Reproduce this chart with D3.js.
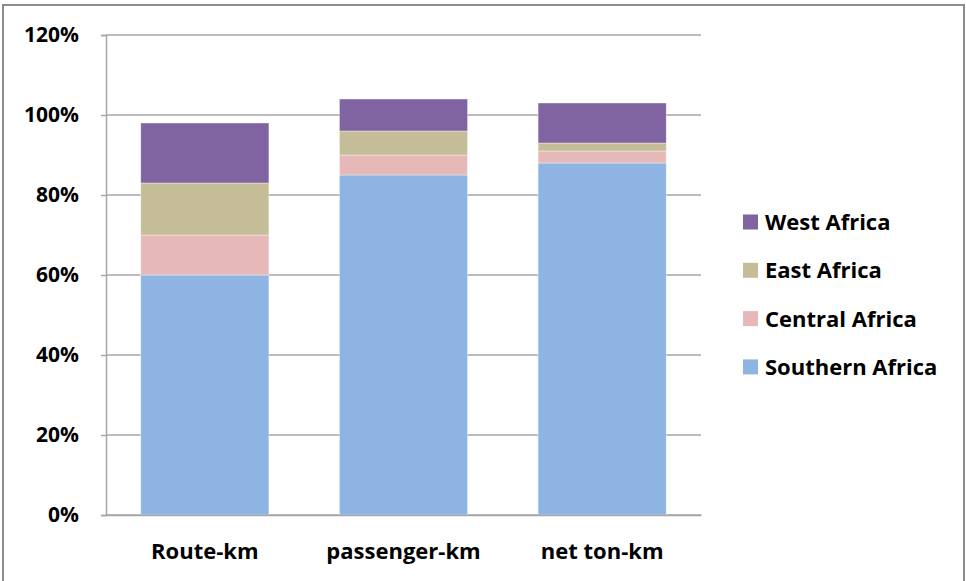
<!DOCTYPE html>
<html>
<head>
<meta charset="utf-8">
<script src="https://cdn.jsdelivr.net/npm/d3@7"></script>
<style>
  html, body { margin: 0; padding: 0; background: #fff; }
  svg { display: block; font-family: "Open Sans", Lato, sans-serif; }
</style>
</head>
<body>
<svg id="chart" width="966" height="581"></svg>
<script>
// Share of African rail network by region (stacked, percent)
const categories = ["Route-km", "passenger-km", "net ton-km"];
const regions = ["Southern Africa", "Central Africa", "East Africa", "West Africa"];
const southernAfrica = [60, 85, 88];
const centralAfrica  = [10, 5, 3];
const eastAfrica     = [13, 6, 2];
const westAfrica     = [15, 8, 10];
const yTicks = [0, 20, 40, 60, 80, 100, 120];
const colors = ["#8EB4E3", "#E6B9B8", "#C4BD97", "#8064A2"];

const seriesValues = [southernAfrica, centralAfrica, eastAfrica, westAfrica];
const rows = categories.map((c, i) => {
  const r = { category: c };
  regions.forEach((name, k) => { r[name] = seriesValues[k][i]; });
  return r;
});
const stacked = d3.stack().keys(regions)(rows);

const svg = d3.select("#chart");
const FONT = "'Open Sans', Lato, sans-serif";

// outer frame
svg.append("rect")
  .attr("x", 3).attr("y", 5).attr("width", 961).attr("height", 590)
  .attr("fill", "#fff").attr("stroke", "#8c8c8c").attr("stroke-width", 2);

const plot = { left: 106, right: 701, top: 35, bottom: 515 };

const x = d3.scaleBand().domain(categories)
  .range([plot.left, plot.right]).paddingInner(0.355).paddingOuter(0.175);
const y = d3.scaleLinear().domain([0, 120]).range([plot.bottom, plot.top]);

// gridlines
svg.append("g").selectAll("line").data(yTicks).join("line")
  .attr("x1", plot.left).attr("x2", plot.right)
  .attr("y1", d => y(d)).attr("y2", d => y(d))
  .attr("stroke", "#a6a6a6").attr("stroke-width", 1.5);

// y axis
const yAxis = svg.append("g")
  .attr("transform", `translate(${plot.left},0)`)
  .call(d3.axisLeft(y).tickValues(yTicks).tickFormat(d => d + "%").tickSize(5).tickPadding(22));
yAxis.select(".domain").attr("stroke", "#a6a6a6").attr("stroke-width", 1.5);
yAxis.selectAll(".tick line").attr("stroke", "#a6a6a6").attr("stroke-width", 1.5);
yAxis.selectAll(".tick text")
  .attr("font-family", FONT).attr("font-weight", "bold")
  .attr("font-size", 21).attr("fill", "#000");

// bars
svg.append("g").selectAll("g").data(stacked).join("g")
  .attr("fill", (d, i) => colors[i])
  .selectAll("rect").data(d => d).join("rect")
  .attr("x", d => x(d.data.category))
  .attr("width", x.bandwidth())
  .attr("y", d => y(d[1]))
  .attr("height", d => y(d[0]) - y(d[1]))
  .attr("stroke", "#ffffff").attr("stroke-opacity", 0.5).attr("stroke-width", 0.75);

// x axis
const xAxis = svg.append("g")
  .attr("transform", `translate(0,${plot.bottom})`)
  .call(d3.axisBottom(x).tickSize(0).tickPadding(28));
xAxis.select(".domain").attr("stroke", "#a6a6a6").attr("stroke-width", 1.5);
xAxis.selectAll(".tick text")
  .attr("font-family", FONT).attr("font-weight", "bold")
  .attr("font-size", 22).attr("fill", "#000");

// legend (top entry is the top of the stack)
const legendOrder = regions.map((r, i) => ({ name: r, color: colors[i] })).reverse();
const legend = svg.append("g").selectAll("g").data(legendOrder).join("g")
  .attr("transform", (d, i) => `translate(743,${222 + i * 48.3})`);
legend.append("rect")
  .attr("x", 0).attr("y", -7.5).attr("width", 15).attr("height", 15)
  .attr("fill", d => d.color);
legend.append("text")
  .attr("x", 22).attr("y", 0).attr("dy", "0.36em")
  .attr("font-family", FONT).attr("font-weight", "bold")
  .attr("font-size", 22).attr("fill", "#000")
  .text(d => d.name);
</script>
</body>
</html>
